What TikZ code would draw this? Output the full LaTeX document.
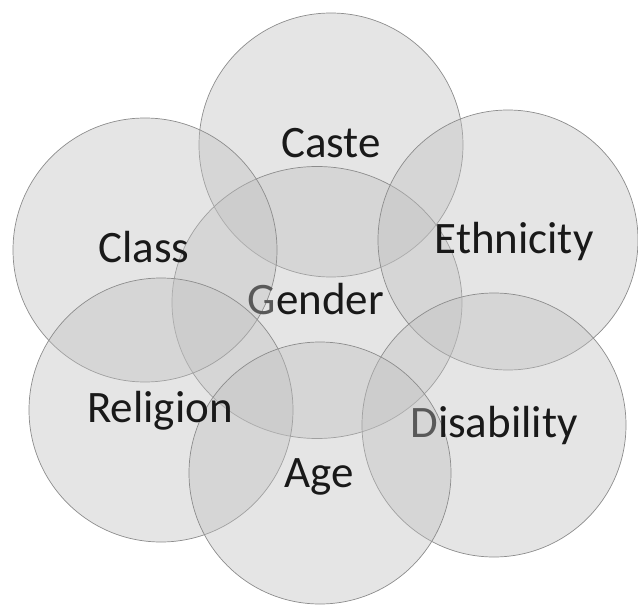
\documentclass[tikz,border=0pt]{standalone}
\usepackage{fontspec}
\setmainfont{Carlito}
\begin{document}
\begin{tikzpicture}[x=1pt,y=-1pt,
  bubble/.style={draw=black!45,line width=0.7pt,fill=black!25,fill opacity=0.4},
  lbl/.style={anchor=base,inner sep=0pt,text=black!90,font=\fontsize{45}{50}\selectfont}]
\useasboundingbox (0,0) rectangle (638,605);
\begin{scope}
\clip (0,0) rectangle (638,605);
\path[bubble] (331,145) circle[radius=132];
\path[bubble] (317,302.5) ellipse[x radius=145,y radius=136];
\path[bubble] (145,250) circle[radius=132];
\path[bubble] (508,240) circle[radius=130];
\path[bubble] (161,410) circle[radius=132];
\path[bubble] (494,425) circle[radius=132];
\path[bubble] (320,473) circle[radius=131];
\end{scope}
\node[lbl] (caste) at (331,157) {Caste};
\node[lbl] (class) at (144,262) {Class};
\node[lbl] (ethnicity) at (514,253) {Ethnicity};
\node[lbl] (gender) at (316,314) {\textcolor{black!65}{G}ender};
\node[lbl] (religion) at (160,422) {Religion};
\node[lbl] (age) at (319,487) {Age};
\node[lbl] (disability) at (494,437) {\textcolor{black!65}{D}isability};
\end{tikzpicture}
\end{document}
